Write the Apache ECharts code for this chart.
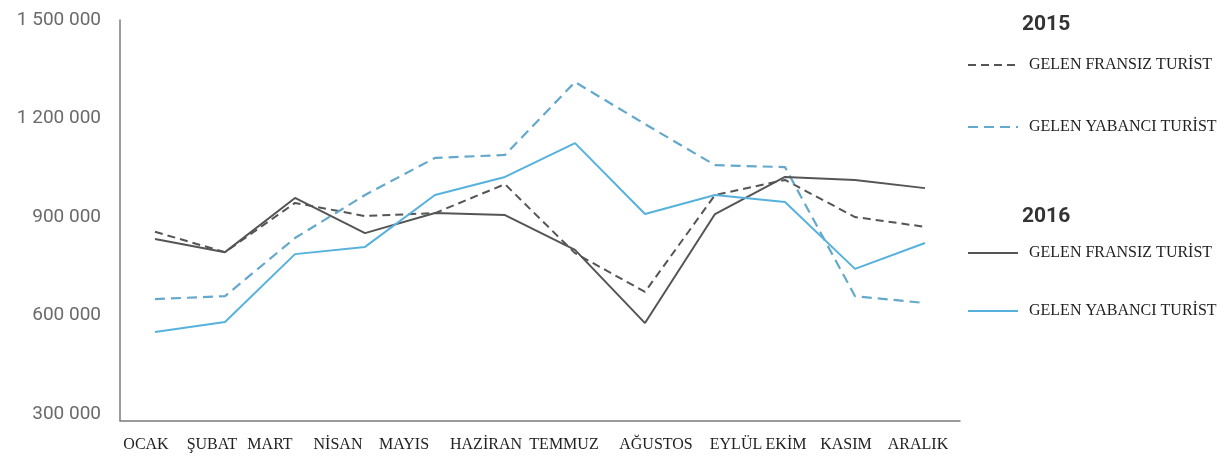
<!DOCTYPE html>
<html>
<head>
<meta charset="utf-8">
<script src="https://cdn.jsdelivr.net/npm/echarts@6/dist/echarts.min.js"></script>
<style>html,body{margin:0;padding:0;background:#fff;}#c{width:1226px;height:466px;}</style>
</head>
<body>
<div id="c"></div>
<script>
// ---- data ----
var months = ['OCAK','ŞUBAT','MART','NİSAN','MAYIS','HAZİRAN','TEMMUZ','AĞUSTOS','EYLÜL','EKİM','KASIM','ARALIK'];
var yTicks = [300000, 600000, 900000, 1200000, 1500000];
var fransiz2015 = [855000, 793000, 943000, 903000, 912000, 1000000, 790000, 672000, 967000, 1013000, 900000, 870000];
var yabanci2015 = [650000, 659000, 836000, 967000, 1080000, 1089000, 1311000, 1183000, 1058000, 1052000, 659000, 638000];
var fransiz2016 = [833000, 793000, 958000, 851000, 912000, 906000, 800000, 577000, 909000, 1022000, 1013000, 988000];
var yabanci2016 = [550000, 580000, 787000, 809000, 967000, 1022000, 1125000, 909000, 967000, 946000, 742000, 821000];
var seriesNames = ['2015 GELEN FRANSIZ TURİST', '2015 GELEN YABANCI TURİST', '2016 GELEN FRANSIZ TURİST', '2016 GELEN YABANCI TURİST'];

// ---- styling ----
var DARK = '#555555', BLUE_D = '#64a9cc', BLUE = '#56b2dd';
// horizontal nudges (px) of the month labels, as typeset in the original
var labelNudge = [-9, -13, -25, -27, -31, -19, -11, 11, 21, 1, -9, -7];
var rich = {};
labelNudge.forEach(function(d, i){
  rich['m' + i] = {fontFamily:'Liberation Serif', fontSize:16, color:'#222',
                   padding: d >= 0 ? [0, 0, 0, 2 * d] : [0, -2 * d, 0, 0]};
});
function fmt(v){ return String(v).replace(/\B(?=(\d{3})+(?!\d))/g, ' '); }
function stripYear(n){ return n.replace(/^\d{4} /, ''); }

var chart = echarts.init(document.getElementById('c'), null, {renderer:'canvas'});
var legendText = {fontFamily:'Liberation Serif', fontSize:16, color:'#222', padding:[0,0,0,6]};
chart.setOption({
  animation:false,
  backgroundColor:'#fff',
  grid:{left:120, right:266, top:20, bottom:45.4, containLabel:false},
  xAxis:{
    type:'category', data:months, boundaryGap:true,
    axisLine:{show:true, lineStyle:{color:'#7a7a7a', width:1.5}},
    axisTick:{show:false},
    axisLabel:{interval:0, margin:16, fontFamily:'Liberation Serif', fontSize:16, color:'#222',
      formatter:function(v, i){ return '{m' + i + '|' + v + '}'; }, rich:rich}
  },
  yAxis:{
    type:'value', min:280000, max:1500000,
    axisLine:{show:true, lineStyle:{color:'#7a7a7a', width:1.5}},
    axisTick:{show:false},
    splitLine:{show:false},
    axisLabel:{customValues:yTicks, margin:19, fontFamily:'Roboto', fontSize:19, color:'#6a6a6a', formatter:fmt}
  },
  legend:[
    {data:[seriesNames[0], seriesNames[1]], orient:'vertical', left:962, top:52, itemWidth:50, itemHeight:14, itemGap:46,
     formatter:stripYear, textStyle:legendText, selectedMode:false, itemStyle:{opacity:0}},
    {data:[seriesNames[2], seriesNames[3]], orient:'vertical', left:962, top:240, itemWidth:50, itemHeight:14, itemGap:42,
     formatter:stripYear, textStyle:legendText, selectedMode:false, itemStyle:{opacity:0}}
  ],
  graphic:[
    {type:'text', left:1022, top:14, style:{text:'2015', fontFamily:'Roboto', fontWeight:'bold', fontSize:21, fill:'#333'}},
    {type:'text', left:1022, top:206, style:{text:'2016', fontFamily:'Roboto', fontWeight:'bold', fontSize:21, fill:'#333'}}
  ],
  series:[
    {name:seriesNames[0], type:'line', data:fransiz2015, showSymbol:false, symbol:'none',
     lineStyle:{color:DARK, width:2, type:[8,5]}, itemStyle:{color:DARK}},
    {name:seriesNames[1], type:'line', data:yabanci2015, showSymbol:false, symbol:'none',
     lineStyle:{color:BLUE_D, width:2.2, type:[10,6]}, itemStyle:{color:BLUE_D}},
    {name:seriesNames[2], type:'line', data:fransiz2016, showSymbol:false, symbol:'none',
     lineStyle:{color:DARK, width:2}, itemStyle:{color:DARK}},
    {name:seriesNames[3], type:'line', data:yabanci2016, showSymbol:false, symbol:'none',
     lineStyle:{color:BLUE, width:2}, itemStyle:{color:BLUE}}
  ]
});
</script>
</body>
</html>
